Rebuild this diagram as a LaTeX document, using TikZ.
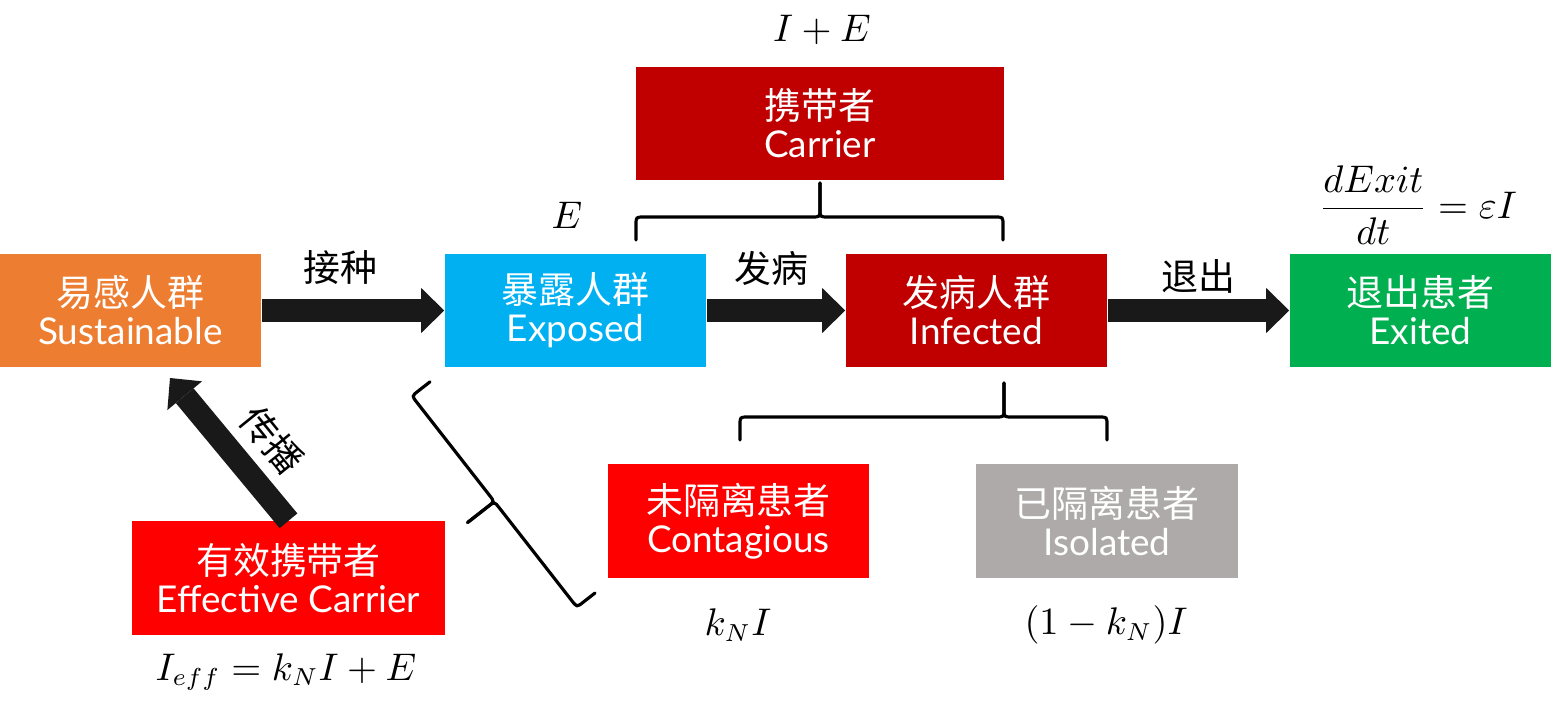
\documentclass[tikz,border=0pt]{standalone}
\usepackage{fontspec}
\usepackage{amsmath}
\setmainfont{Lato}
\newfontfamily\cjk{Noto Sans CJK SC}
\usetikzlibrary{arrows.meta}

\definecolor{sorange}{HTML}{ED7D31}
\definecolor{ecyan}{HTML}{00B0F0}
\definecolor{idred}{HTML}{C00000}
\definecolor{xgreen}{HTML}{00B050}
\definecolor{cred}{HTML}{FF0000}
\definecolor{igray}{HTML}{AEAAAA}

\tikzset{
  box/.style={rectangle,fill=#1,text=white,minimum width=2.61cm,minimum height=1.13cm,
    inner sep=0pt,align=center,font=\fontsize{10.5}{10.8}\selectfont},
  flow/.style={line width=0.23cm,black!90,-{Triangle[length=0.23cm,width=0.45cm,line width=0pt]}},
  lbl/.style={font=\fontsize{10.5}{12}\selectfont},
  brc/.style={line width=0.9pt,line cap=round}
}

% brace in local pixels: #1 length, #2 tip position
\newcommand{\cbrace}[2]{
  \draw[brc] (0,0) -- (0,-15) .. controls (0,-23) .. (8,-23) -- ({#2-8},-23)
    .. controls (#2,-23) .. (#2,-31) -- (#2,-57);
  \draw[brc] (#1,0) -- (#1,-15) .. controls (#1,-23) .. ({#1-8},-23) -- ({#2+8},-23)
    .. controls (#2,-23) .. (#2,-31) -- (#2,-57);
}

\begin{document}
\begin{tikzpicture}[x=0.01cm,y=-0.01cm]
\useasboundingbox (0,0) rectangle (1551,712);

% main chain
\node[box=sorange] (sus) at (130.5,310.5) {{\cjk 易感人群}\\Sustainable};
\node[box=ecyan]   (exp) at (575.5,310.5) {{\cjk 暴露人群}\\Exposed};
\node[box=idred]   (inf) at (976.5,310.5) {{\cjk 发病人群}\\Infected};
\node[box=xgreen]  (ext) at (1420.5,310.5) {{\cjk 退出患者}\\Exited};
\node[box=idred,minimum width=3.68cm] (car) at (820,123.5) {{\cjk 携带者}\\Carrier};
\node[box=cred]    (con) at (738.5,521) {{\cjk 未隔离患者}\\Contagious};
\node[box=igray]   (iso) at (1107,521) {{\cjk 已隔离患者}\\Isolated};
\node[box=cred,minimum width=3.13cm] (eff) at (288.5,578) {{\cjk 有效携带者}\\Effective Carrier};

\coordinate (sprd) at (170,378);
\draw[flow] (sus.east) -- (exp.west);
\draw[flow] (exp.east) -- (inf.west);
\draw[flow] (inf.east) -- (ext.west);
\draw[flow] (eff.north) -- (sprd);

\node[lbl] (jz) at (340,268) {\cjk 接种};
\node[lbl] (fb) at (771,268) {\cjk 发病};
\node[lbl] (tc) at (1198,276) {\cjk 退出};
\node[lbl,rotate=-51] (cb) at (272,440) {\cjk 传播};

% braces
\begin{scope}[shift={(636,240)}]
  \cbrace{367}{184}
\end{scope}
\begin{scope}[shift={(740,440)}]
  \cbrace{367}{264}
\end{scope}
\begin{scope}[shift={(595,593)},rotate=128]
  \cbrace{268}{134}
\end{scope}

% formulas
\node[lbl] (ie)   at (822,30)   {$I+E$};
\node[lbl] (ee)   at (567,215)  {$E$};
\node[lbl] (dex)  at (1418,205) {$\dfrac{dExit}{dt}=\varepsilon I$};
\node[lbl] (kn)   at (738,625)  {$k_NI$};
\node[lbl] (knb)  at (1106,625) {$(1-k_N)I$};
\node[lbl] (ieff) at (286,672)  {$I_{eff}=k_NI+E$};
\end{tikzpicture}
\end{document}
